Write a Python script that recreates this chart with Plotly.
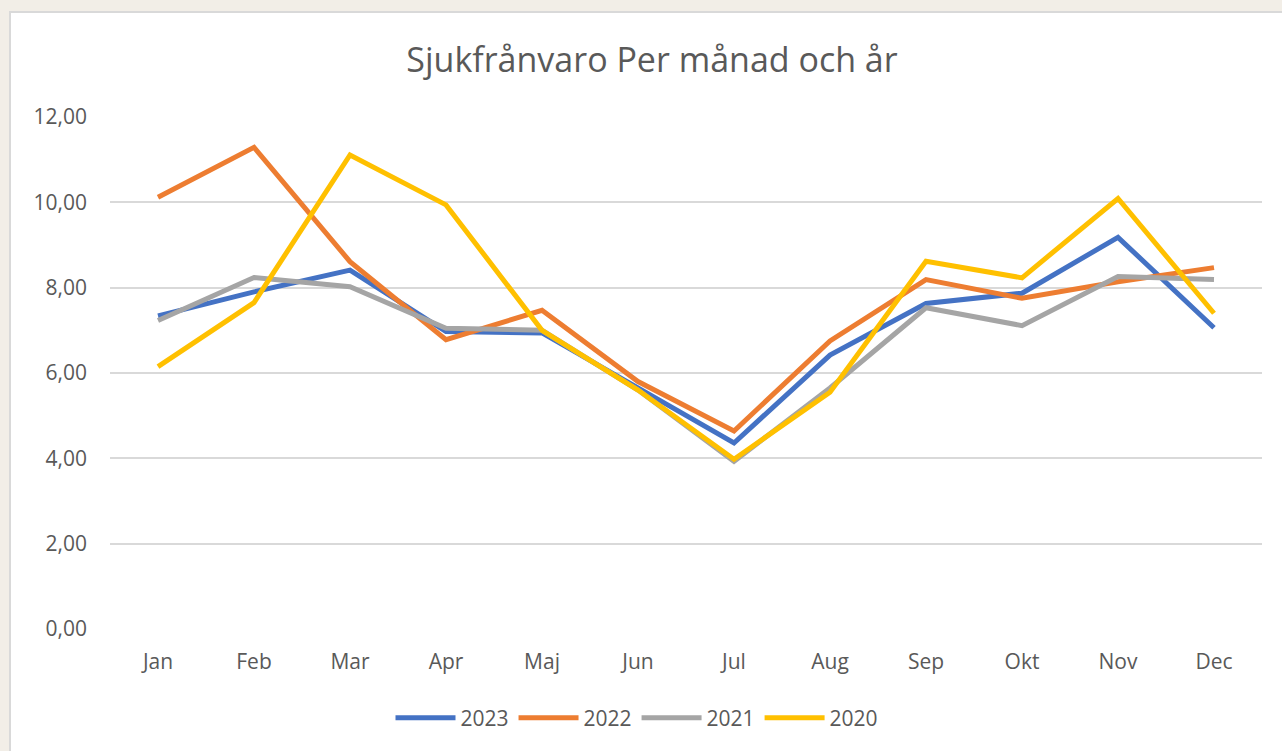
import plotly.graph_objects as go

months = ["Jan", "Feb", "Mar", "Apr", "Maj", "Jun", "Jul", "Aug", "Sep", "Okt", "Nov", "Dec"]
y2023 = [7.34, 7.90, 8.41, 6.97, 6.94, 5.65, 4.36, 6.42, 7.63, 7.87, 9.18, 7.06]
y2022 = [10.12, 11.29, 8.61, 6.78, 7.47, 5.80, 4.64, 6.75, 8.19, 7.75, 8.14, 8.47]
y2021 = [7.23, 8.24, 8.02, 7.05, 7.00, 5.60, 3.93, 5.65, 7.53, 7.11, 8.26, 8.19]
y2020 = [6.15, 7.65, 11.11, 9.94, 7.00, 5.60, 3.98, 5.55, 8.62, 8.23, 10.09, 7.40]
series = [("2023", y2023, "#4472C4"), ("2022", y2022, "#ED7D31"),
          ("2021", y2021, "#A5A5A5"), ("2020", y2020, "#FFC000")]
yticks = [0, 2, 4, 6, 8, 10, 12]

font = "Open Sans, Noto Sans, DejaVu Sans, sans-serif"
fig = go.Figure()
for name, vals, col in series:
    fig.add_trace(go.Scatter(x=months, y=vals, name=name, mode="lines",
                             line=dict(color=col, width=5)))

L, R, T, B = 110, 20, 117, 122
W, H = 1282, 751
pw, ph = W - L - R, H - T - B
fig.add_shape(type="rect", xref="paper", yref="paper", layer="below",
              x0=(10 - L) / pw, x1=(W + 5 - L) / pw,
              y0=-(B + 5) / ph, y1=(H - B - 12) / ph,
              fillcolor="white", line=dict(color="#D9D9D9", width=2))

fig.update_layout(
    width=W, height=H,
    margin=dict(l=L, r=R, t=T, b=B),
    paper_bgcolor="#F2EEE7", plot_bgcolor="white",
    separators=", ",
    title=dict(text="Sjukfrånvaro Per månad och år", x=652 / W, xanchor="center",
               y=1 - 60 / H, yanchor="middle",
               font=dict(family=font, size=34, color="#595959")),
    font=dict(family=font, size=22, color="#595959"),
    showlegend=True,
    legend=dict(orientation="h", x=(637 - L) / pw, xanchor="center",
                y=-(718 - (H - B)) / ph, yanchor="middle",
                font=dict(size=21, color="#595959"),
                bgcolor="rgba(0,0,0,0)", traceorder="normal", itemwidth=60),
    xaxis=dict(range=[-0.5, 11.5], showgrid=False, showline=False, ticks="",
               ticklabelstandoff=18, tickfont=dict(size=21, color="#595959")),
    yaxis=dict(range=[0, 12], tickvals=yticks, tickformat=".2f", showgrid=True,
               gridcolor="#D9D9D9", gridwidth=1.5, zeroline=False, showline=False,
               ticks="", ticklabelstandoff=22, tickfont=dict(size=21, color="#595959")),
)
fig.write_html("out.html", config={"displayModeBar": False},
               post_script="document.body.style.margin='0';document.body.style.padding='0';")
